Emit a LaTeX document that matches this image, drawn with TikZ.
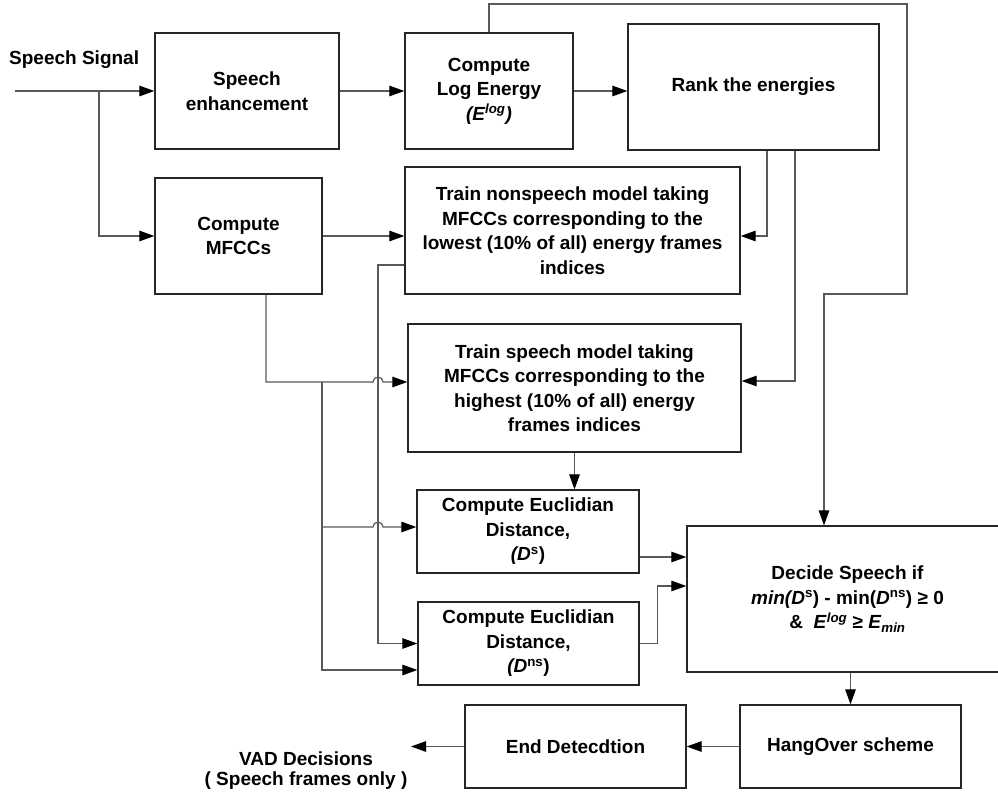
\documentclass[tikz,border=0pt]{standalone}
\usepackage{fontspec}
\setmainfont{Liberation Sans}
\usetikzlibrary{arrows.meta}

\tikzset{
	blk/.style={draw=black!85, line width=1.3pt, inner sep=0pt, align=center,
		font=\fontsize{19}{24.5}\selectfont\bfseries},
	lbl/.style={inner sep=0pt, align=center, font=\fontsize{19}{20}\selectfont\bfseries},
	conn/.style={draw=black!65, line width=1.2pt, -{Triangle[length=15pt,width=10.5pt,color=black]}}
}

\begin{document}
\begin{tikzpicture}[x=1pt,y=-1pt]
	\useasboundingbox (0,0) rectangle (998,802);

	% boxes
	\node[blk, minimum width=184pt, minimum height=116pt] (enh) at (247,91) {Speech\\enhancement};
	\node[blk, minimum width=167pt, minimum height=116pt] (mfcc) at (238.5,236) {Compute\\MFCCs};
	\node[blk, minimum width=168pt, minimum height=116pt] (logE) at (489,91) {Compute\\Log Energy\\{\itshape (E\textsuperscript{log})}};
	\node[blk, minimum width=251pt, minimum height=126pt] (rank) at (753.5,87) {Rank the energies};
	\node[blk, minimum width=335pt, minimum height=127pt] (trainns) at (572.5,230.5) {Train nonspeech model taking\\MFCCs corresponding to the\\lowest (10\% of all) energy frames\\indices};
	\node[blk, minimum width=333pt, minimum height=128pt] (trainsp) at (574.5,388) {Train speech model taking\\MFCCs corresponding to the\\highest (10\% of all) energy\\frames indices};
	\node[blk, minimum width=222pt, minimum height=83pt] (eucs) at (528,531.5) {Compute Euclidian\\Distance,\\\textit{(D}\textsuperscript{s})};
	\node[blk, minimum width=221pt, minimum height=83pt] (eucns) at (528.5,643.5) {Compute Euclidian\\Distance,\\\textit{(D}\textsuperscript{ns})};
	\node[blk, minimum width=321pt, minimum height=146pt] (decide) at (847.5,599) {Decide Speech if\\\textit{min(D}\textsuperscript{s}) - min(\textit{D}\textsuperscript{ns}) ≥ 0\\\& \ \textit{E}\textsuperscript{\textit{log}} ≥ \textit{E}\textsubscript{\textit{min}}};
	\node[blk, minimum width=221pt, minimum height=83pt] (hang) at (850.5,746.5) {HangOver scheme};
	\node[blk, minimum width=221pt, minimum height=83pt] (endd) at (575.5,746.5) {End Detecdtion};

	% labels
	\node[lbl, anchor=west] (sigtxt) at (9,60) {Speech Signal};
	\node[lbl] (vadtxt) at (306,771) {VAD Decisions\\( Speech frames only )};

	\coordinate (sig) at (15,91);
	\coordinate (sp1) at (99,91);
	\coordinate (lpR) at (907,4);
	\coordinate (lpB) at (824,294);
	\coordinate (nsx) at (378,265);
	\coordinate (hiA) at (373,382);
	\coordinate (bus) at (322,382);
	\coordinate (jB) at (373,527);
	\coordinate (vad) at (411,746.5);

	% connectors
	\draw[conn] (sig) -- (enh);
	\draw[conn] (sp1) |- (mfcc);
	\draw[conn] (enh) -- (logE);
	\draw[conn] (logE.east) -- (logE.east -| rank.west);
	\draw[conn] (logE.north) |- (lpR) |- (lpB) -- (lpB |- decide.north);
	\draw[conn] ([xshift=13.5pt]rank.south) |- ([yshift=-5.5pt]trainns.east);
	\draw[conn] ([xshift=41.5pt]rank.south) |- ([yshift=7pt]trainsp.east);
	\draw[conn] (mfcc) -- (mfcc -| trainns.west);
	\draw[conn] ([yshift=-34.5pt]trainns.west) -- (nsx) |- (eucns);
	\draw[conn] ([xshift=27.5pt]mfcc.south) |- (hiA) arc[start angle=180,end angle=0,radius=5pt] -- ([yshift=6pt]trainsp.west);
	\draw[conn] (bus) |- ([yshift=-26.5pt]eucns.west);
	\draw[conn] (bus |- jB) -- (jB) arc[start angle=180,end angle=0,radius=5pt] -- (eucs.west |- jB);
	\draw[conn] (trainsp.south) -- (trainsp.south |- eucs.north);
	\draw[conn] ([yshift=-25.5pt]eucs.east) -- ([yshift=-25.5pt]eucs.east -| decide.west);
	\draw[conn] (eucns.east) -- ++(18,0) |- ([yshift=13pt]decide.west);
	\draw[conn] (hang.north |- decide.south) -- (hang.north);
	\draw[conn] (hang) -- (endd);
	\draw[conn] (endd) -- (vad);

\end{tikzpicture}
\end{document}
